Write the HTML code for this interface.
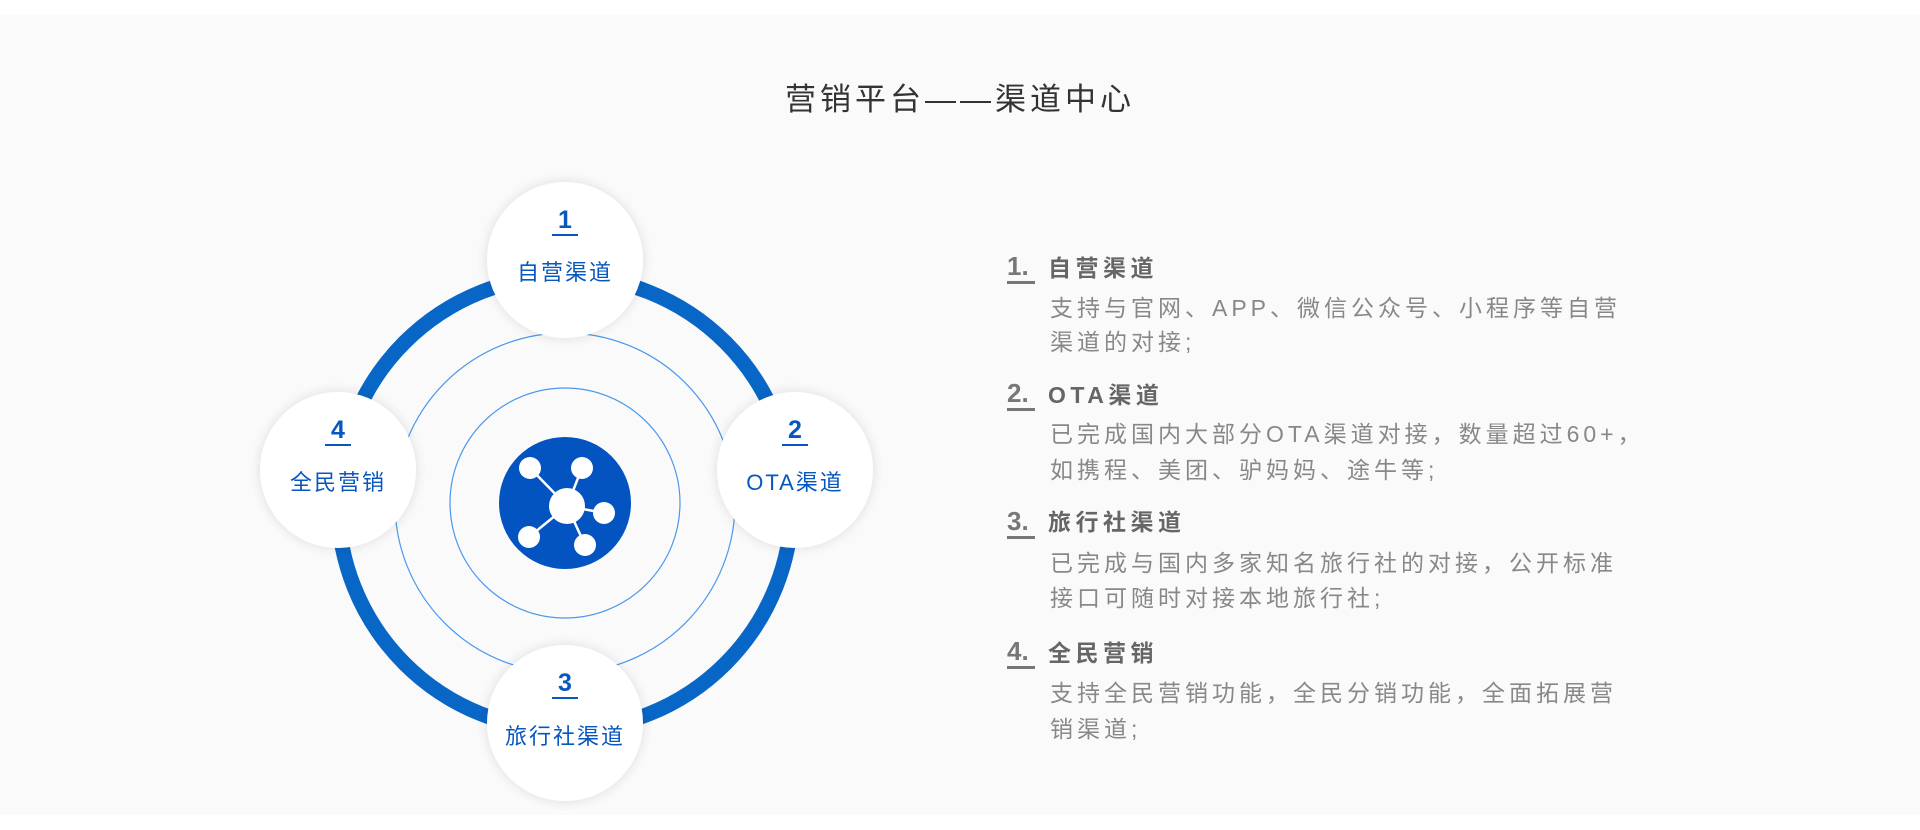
<!DOCTYPE html>
<html><head><meta charset="utf-8">
<style>
html,body{margin:0;padding:0;}
body{width:1920px;height:830px;background:#fff;position:relative;overflow:hidden;font-family:"Liberation Sans","Noto Sans CJK SC",sans-serif;}
#panel{position:absolute;left:0;top:15px;width:1920px;height:800px;background:#fafafa;}
.t{position:absolute;white-space:nowrap;}
#title{left:785px;top:80px;font-size:31px;letter-spacing:4px;color:#333;line-height:40px;}
.num{position:absolute;font-size:26px;font-weight:bold;color:#777;line-height:30px;border-bottom:3px solid #777;width:28px;font-family:"Liberation Sans","Noto Sans CJK SC",sans-serif;}
.hd{position:absolute;font-size:23px;font-weight:bold;color:#666;letter-spacing:4.5px;line-height:30px;white-space:nowrap;}
.bd{position:absolute;font-size:23px;color:#888;letter-spacing:4px;line-height:30px;white-space:nowrap;}
.nl{position:absolute;font-size:22px;color:#0757bf;letter-spacing:2px;text-align:center;width:200px;line-height:28px;white-space:nowrap;}
.nn{position:absolute;font-size:25px;font-weight:bold;color:#0757bf;text-align:center;width:26px;line-height:28px;border-bottom:2px solid #0757bf;}
</style></head><body>
<div id="panel"></div>
<svg width="1920" height="830" style="position:absolute;left:0;top:0">
<defs>
<filter id="sh" x="-30%" y="-30%" width="160%" height="160%">
<feGaussianBlur in="SourceAlpha" stdDeviation="6"/>
<feComponentTransfer><feFuncA type="linear" slope="0.12"/></feComponentTransfer>
<feMerge><feMergeNode/><feMergeNode in="SourceGraphic"/></feMerge>
</filter>
</defs>
<circle cx="565" cy="503" r="227" fill="none" stroke="#0866c6" stroke-width="15"/>
<circle cx="565" cy="503" r="170" fill="none" stroke="#4a98ec" stroke-width="1.2"/>
<circle cx="565" cy="503" r="115" fill="none" stroke="#4a98ec" stroke-width="1.2"/>
<circle cx="565" cy="503" r="66" fill="#0354c0"/>
<g stroke="#fff" stroke-width="2.5">
<line x1="567" y1="506" x2="530" y2="468"/>
<line x1="567" y1="506" x2="582" y2="468"/>
<line x1="567" y1="506" x2="604" y2="513"/>
<line x1="567" y1="506" x2="529" y2="537"/>
<line x1="567" y1="506" x2="585" y2="545"/>
</g>
<g fill="#fff">
<circle cx="567" cy="506" r="18"/>
<circle cx="530" cy="468" r="11"/>
<circle cx="582" cy="468" r="11"/>
<circle cx="604" cy="513" r="11"/>
<circle cx="529" cy="537" r="11"/>
<circle cx="585" cy="545" r="11"/>
</g>
<g fill="#fff" filter="url(#sh)">
<circle cx="565" cy="260" r="78"/>
<circle cx="795" cy="470" r="78"/>
<circle cx="338" cy="470" r="78"/>
<circle cx="565" cy="723" r="78"/>
</g>
</svg>

<div class="nn" style="left:552px;top:206px;">1</div>
<div class="nl" style="left:465px;top:259px;">自营渠道</div>
<div class="nn" style="left:782px;top:416px;">2</div>
<div class="nl" style="left:695px;top:469px;">OTA渠道</div>
<div class="nn" style="left:325px;top:416px;">4</div>
<div class="nl" style="left:238px;top:469px;">全民营销</div>
<div class="nn" style="left:552px;top:669px;">3</div>
<div class="nl" style="left:465px;top:723px;">旅行社渠道</div>

<div class="t" id="title">营销平台——渠道中心</div>

<div class="num" style="left:1007px;top:251px;">1.</div>
<div class="hd" style="left:1048px;top:253px;">自营渠道</div>
<div class="bd" style="left:1050px;top:293px;">支持与官网、APP、微信公众号、小程序等自营</div>
<div class="bd" style="left:1050px;top:327px;">渠道的对接;</div>

<div class="num" style="left:1007px;top:378px;">2.</div>
<div class="hd" style="left:1048px;top:380px;">OTA渠道</div>
<div class="bd" style="left:1050px;top:419px;">已完成国内大部分OTA渠道对接，数量超过60+，</div>
<div class="bd" style="left:1050px;top:455px;">如携程、美团、驴妈妈、途牛等;</div>

<div class="num" style="left:1007px;top:506px;">3.</div>
<div class="hd" style="left:1048px;top:507px;">旅行社渠道</div>
<div class="bd" style="left:1050px;top:548px;">已完成与国内多家知名旅行社的对接，公开标准</div>
<div class="bd" style="left:1050px;top:583px;">接口可随时对接本地旅行社;</div>

<div class="num" style="left:1007px;top:636px;">4.</div>
<div class="hd" style="left:1048px;top:638px;">全民营销</div>
<div class="bd" style="left:1050px;top:678px;">支持全民营销功能，全民分销功能，全面拓展营</div>
<div class="bd" style="left:1050px;top:714px;">销渠道;</div>
</body></html>
